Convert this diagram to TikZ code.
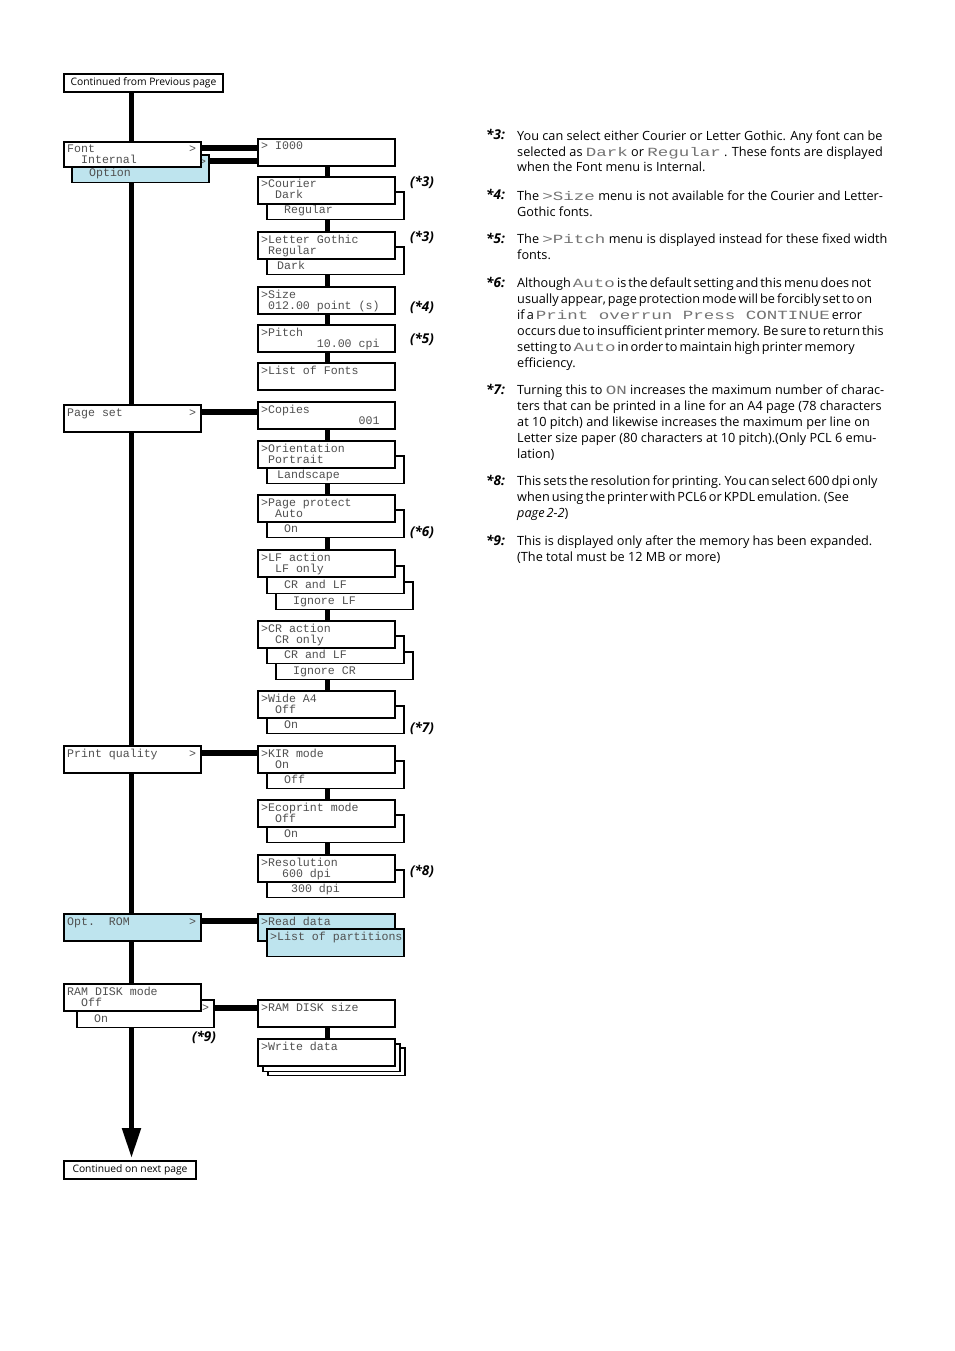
\documentclass[tikz,border=0pt]{standalone}
\usepackage{fontspec}
\usepackage{graphicx}
\setmainfont{Open Sans}
\newfontfamily\tightfont{Open Sans}[WordSpace=0.62]
\newfontfamily\lcdfont{Liberation Mono}
\usetikzlibrary{arrows.meta}
\pgfdeclarelayer{bg}
\pgfdeclarelayer{conn}
\pgfsetlayers{bg,conn,main}
\definecolor{lblue}{RGB}{190,228,238}
\definecolor{lcdgray}{RGB}{80,80,80}
\newcommand\lcdin[1]{\scalebox{1.4}[1]{\lcdfont\fontsize{12.5}{12.5}\selectfont\color{black!55}#1}}
\newcommand\lcdbox[6]{%
  \node[#1] (#2) at (#3,#4) {};
  \node[lcd] at (#3+3,#4+11) {#5};
  \node[lcd] at (#3+3,#4+22) {#6};
}
\tikzset{
  frontbox/.style={draw, line width=2pt, fill=white, minimum width=137pt, minimum height=27pt, inner sep=0pt, outer sep=0pt, anchor=north west},
  backbox/.style={draw, line width=1.2pt, fill=white, minimum width=137pt, minimum height=27.5pt, inner sep=0pt, outer sep=0pt, anchor=north west},
  lcd/.style={font=\lcdfont\fontsize{11.6}{12}\selectfont, text=lcdgray, inner sep=0pt, anchor=base west},
  contbox/.style={draw, line width=1.3pt, fill=white, inner sep=0pt, minimum height=18pt, font=\fontsize{10.3}{10}\selectfont},
  conn/.style={line width=5pt},
  hconn/.style={line width=6pt},
  notemark/.style={font=\fontsize{13.5}{13.5}\selectfont\bfseries\itshape, inner sep=0pt},
  notelabel/.style={font=\fontsize{13.5}{16}\selectfont\bfseries\itshape, inner sep=0pt, anchor=base west},
  notetext/.style={font=\fontsize{12.7}{16}\selectfont, inner sep=0pt, anchor=base west, align=left},
  tighttext/.style={notetext, font=\tightfont\fontsize{12.7}{16}\selectfont},
}
\begin{document}
\begin{tikzpicture}[x=1pt,y=-1pt]
\begin{pgfonlayer}{bg}
\fill[white] (0,0) rectangle (954,1351);
\end{pgfonlayer}
\useasboundingbox (0,0) rectangle (954,1351);

% continuation boxes
\node[contbox, minimum width=159pt] (contprev) at (143.5,83) {Continued from Previous page};
\node[contbox, minimum width=132pt] (contnext) at (130,1170) {Continued on next page};

% named helper coordinates
\coordinate (mx) at (131.5,0);
\coordinate (mend) at (131.5,1158);
\coordinate (cx) at (327,0);
\coordinate (hf1) at (0,148.5);
\coordinate (hf2) at (0,161);
\coordinate (hps) at (0,412);
\coordinate (hpq) at (0,753);
\coordinate (hor) at (0,920.5);
\coordinate (hrd) at (0,1007.5);

% ---------- left column ----------
\lcdbox{backbox, fill=lblue}{fontb}{72}{155}{}{~~Option}
\node[lcd] at (199,166) {>};
\lcdbox{frontbox, minimum height=25pt}{font}{64}{142}{Font}{~~Internal}
\node[lcd] at (189,153) {>};

\lcdbox{frontbox}{pageset}{64}{405}{Page~set}{}
\node[lcd] at (189,416) {>};

\lcdbox{frontbox}{pquality}{64}{746}{Print~quality}{}
\node[lcd] at (189,757) {>};

\lcdbox{frontbox, fill=lblue}{optrom}{64}{914}{Opt.~~ROM}{}
\node[lcd] at (189,925) {>};

\lcdbox{backbox}{ramb}{77}{1000}{}{~~On}
\node[lcd] at (202,1011) {>};
\lcdbox{frontbox}{ram}{64}{984}{RAM~DISK~mode}{~~Off}

% ---------- right column ----------
\lcdbox{frontbox}{i000}{258}{139}{>~I000}{}

\lcdbox{backbox}{courierb}{267}{192}{}{~~Regular}
\lcdbox{frontbox}{courier}{258}{177}{>Courier}{~~Dark}

\lcdbox{backbox}{lgb}{267}{247}{}{~Dark}
\lcdbox{frontbox}{lg}{258}{232}{>Letter~Gothic}{~Regular}

\lcdbox{frontbox}{size}{258}{287}{>Size}{~012.00~point~(s)}
\lcdbox{frontbox}{pitch}{258}{325}{>Pitch}{~~~~~~~~10.00~cpi}
\lcdbox{frontbox}{fonts}{258}{363}{>List~of~Fonts}{}

\lcdbox{frontbox}{copies}{258}{402}{>Copies}{~~~~~~~~~~~~~~001}

\lcdbox{backbox}{orientb}{267}{456}{}{~Landscape}
\lcdbox{frontbox}{orient}{258}{441}{>Orientation}{~Portrait}

\lcdbox{backbox}{protectb}{267}{510}{}{~~On}
\lcdbox{frontbox}{protect}{258}{495}{>Page~protect}{~~Auto}

\lcdbox{backbox}{lfc}{276}{582}{}{~~Ignore~LF}
\lcdbox{backbox}{lfb}{267}{566}{}{~~CR~and~LF}
\lcdbox{frontbox}{lf}{258}{550}{>LF~action}{~~LF~only}

\lcdbox{backbox}{crc}{276}{652}{}{~~Ignore~CR}
\lcdbox{backbox}{crb}{267}{636}{}{~~CR~and~LF}
\lcdbox{frontbox}{cr}{258}{621}{>CR~action}{~~CR~only}

\lcdbox{backbox}{wideb}{267}{706}{}{~~On}
\lcdbox{frontbox}{wide}{258}{691}{>Wide~A4}{~~Off}

\lcdbox{backbox}{kirb}{267}{761}{}{~~Off}
\lcdbox{frontbox}{kir}{258}{746}{>KIR~mode}{~~On}

\lcdbox{backbox}{ecob}{267}{815}{}{~~On}
\lcdbox{frontbox}{eco}{258}{800}{>Ecoprint~mode}{~~Off}

\lcdbox{backbox}{resb}{267}{870}{}{~~~300~dpi}
\lcdbox{frontbox}{res}{258}{855}{>Resolution}{~~~600~dpi}

\lcdbox{frontbox, fill=lblue}{read}{258}{914}{>Read~data}{}
\lcdbox{backbox, fill=lblue}{readb}{267}{929}{>List~of~partitions}{}

\lcdbox{frontbox}{ramsize}{258}{1000}{>RAM~DISK~size}{}

\lcdbox{backbox}{writec}{268}{1048}{}{}
\lcdbox{backbox}{writeb}{263}{1044}{}{}
\lcdbox{frontbox}{write}{258}{1039}{>Write~data}{}

% ---------- connectors (behind boxes) ----------
\begin{pgfonlayer}{conn}
\draw[conn, -{Triangle[length=30pt,width=18pt]}] (contprev.south -| mx) -- (mend);
\draw[hconn] (font.east |- hf1) -- (i000.west |- hf1);
\draw[hconn] (fontb.east |- hf2) -- (i000.west |- hf2);
\draw[hconn] (pageset.east |- hps) -- (copies.west |- hps);
\draw[hconn] (pquality.east |- hpq) -- (kir.west |- hpq);
\draw[hconn] (optrom.east |- hor) -- (read.west |- hor);
\draw[hconn] (ramb.east |- hrd) -- (ramsize.west |- hrd);
\draw[conn] (i000.south -| cx) -- (courier.north -| cx);
\draw[conn] (courierb.south -| cx) -- (lg.north -| cx);
\draw[conn] (lgb.south -| cx) -- (size.north -| cx);
\draw[conn] (size.south -| cx) -- (pitch.north -| cx);
\draw[conn] (pitch.south -| cx) -- (fonts.north -| cx);
\draw[conn] (copies.south -| cx) -- (orient.north -| cx);
\draw[conn] (orientb.south -| cx) -- (protect.north -| cx);
\draw[conn] (protectb.south -| cx) -- (lf.north -| cx);
\draw[conn] (lfc.south -| cx) -- (cr.north -| cx);
\draw[conn] (crc.south -| cx) -- (wide.north -| cx);
\draw[conn] (kirb.south -| cx) -- (eco.north -| cx);
\draw[conn] (ecob.south -| cx) -- (res.north -| cx);
\draw[conn] (ramsize.south -| cx) -- (write.north -| cx);
\end{pgfonlayer}

% ---------- note marks ----------
\node[notemark] (m3a) at (422,182) {(*3)};
\node[notemark] (m3b) at (422,237) {(*3)};
\node[notemark] (m4) at (422,307) {(*4)};
\node[notemark] (m5) at (422,339) {(*5)};
\node[notemark] (m6) at (422,532) {(*6)};
\node[notemark] (m7) at (422,728) {(*7)};
\node[notemark] (m8) at (422,871) {(*8)};
\node[notemark] (m9) at (204,1037) {(*9)};

% ---------- footnotes (node base = last line's baseline) ----------
\node[notelabel] (l3) at (486,140) {*3:};
\node[notetext] (t3) at (517,172) {You can select either Courier or Letter Gothic. Any font can be\\
selected as \lcdin{Dark} or \lcdin{Regular} . These fonts are displayed\\
when the Font menu is Internal.};
\node[notelabel] (l4) at (486,200) {*4:};
\node[notetext] (t4) at (517,216) {The \lcdin{>Size} menu is not available for the Courier and Letter-\\
Gothic fonts.};
\node[notelabel] (l5) at (486,243) {*5:};
\node[notetext] (t5) at (517,259) {The \lcdin{>Pitch} menu is displayed instead for these fixed width\\
fonts.};
\node[notelabel] (l6) at (486,287) {*6:};
\node[tighttext] (t6) at (517,367) {Although \lcdin{Auto} is the default setting and this menu does not\\
usually appear, page protection mode will be forcibly set to on\\
if a \lcdin{Print overrun Press CONTINUE} error\\
occurs due to insufficient printer memory. Be sure to return this\\
setting to \lcdin{Auto} in order to maintain high printer memory\\
efficiency.};
\node[notelabel] (l7) at (486,394) {*7:};
\node[notetext] (t7) at (517,458) {Turning this to \lcdin{ON} increases the maximum number of charac-\\
ters that can be printed in a line for an A4 page (78 characters\\
at 10 pitch) and likewise increases the maximum per line on\\
Letter size paper (80 characters at 10 pitch).(Only PCL 6 emu-\\
lation)};
\node[notelabel] (l8) at (486,485) {*8:};
\node[tighttext] (t8) at (517,517) {This sets the resolution for printing. You can select 600 dpi only\\
when using the printer with PCL6 or KPDL emulation. (See\\
\textit{page 2-2})};
\node[notelabel] (l9) at (486,545) {*9:};
\node[notetext] (t9) at (517,561) {This is displayed only after the memory has been expanded.\\
(The total must be 12 MB or more)};
\end{tikzpicture}
\end{document}
